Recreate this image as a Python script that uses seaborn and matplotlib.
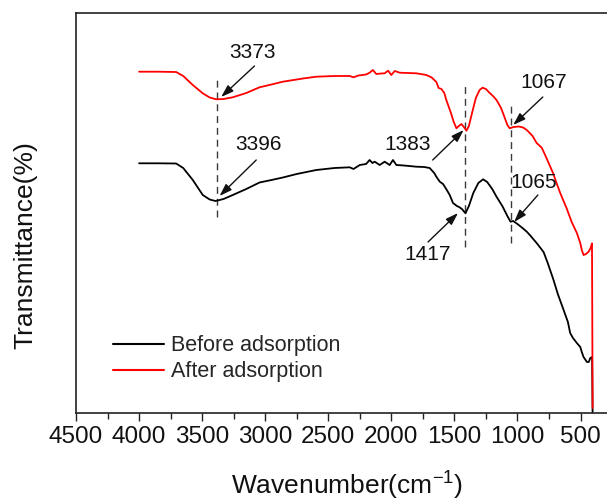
import numpy as np
import pandas as pd
import matplotlib
matplotlib.use("Agg")
import matplotlib.pyplot as plt
from matplotlib.ticker import MultipleLocator
import seaborn as sns

# FTIR spectra (transmittance, arbitrary offset units) before / after adsorption
wn_after = [4000, 3850, 3706, 3650, 3574, 3495, 3440, 3389, 3330, 3257, 3150, 3045,
            2950, 2860, 2700, 2595, 2450, 2330, 2300, 2260, 2200, 2172, 2146, 2119,
            2080, 2053, 2026, 2000, 1973, 1933, 1870, 1801, 1722, 1680, 1643, 1625,
            1603, 1580, 1564, 1530, 1505, 1484, 1465, 1444, 1425, 1404, 1385, 1360,
            1330, 1300, 1277, 1250, 1220, 1190, 1166, 1130, 1100, 1080, 1061, 1030,
            990, 955, 926, 880, 848, 830, 806, 770, 717, 690, 661, 611, 570, 529,
            502, 490, 476, 456, 436, 420, 409, 404]
t_after = [341.3, 341.3, 341.0, 337.0, 328.0, 319.7, 315.5, 313.7, 314.0, 315.7, 320.0, 325.7,
           328.5, 331.3, 334.5, 336.3, 337.0, 337.0, 335.7, 337.5, 338.5, 340.3, 343.0, 339.0,
           339.5, 339.7, 342.3, 338.0, 342.0, 340.3, 340.0, 339.7, 338.0, 335.5, 331.0, 325.0,
           324.0, 320.0, 313.0, 301.0, 291.0, 284.7, 287.0, 289.0, 286.0, 282.3, 287.0, 300.0,
           315.0, 323.0, 325.3, 324.0, 320.0, 316.5, 313.0, 305.0, 295.0, 288.0, 284.7, 286.0,
           286.5, 285.5, 283.0, 277.0, 270.0, 268.0, 265.0, 255.0, 239.7, 230.0, 220.0, 205.0,
           191.0, 180.0, 170.0, 163.0, 158.0, 159.0, 161.3, 165.0, 169.7, 5.0]

wn_before = [4000, 3850, 3706, 3650, 3574, 3495, 3440, 3394, 3330, 3257, 3150, 3045,
             2950, 2860, 2750, 2595, 2450, 2330, 2300, 2250, 2200, 2172, 2150, 2132,
             2092, 2053, 2013, 1987, 1960, 1900, 1801, 1740, 1696, 1660, 1643, 1616,
             1590, 1560, 1537, 1511, 1480, 1463, 1440, 1412, 1385, 1350, 1310, 1272,
             1240, 1200, 1166, 1120, 1080, 1055, 1034, 1000, 960, 926, 902, 848,
             793, 760, 714, 680, 634, 600, 582, 560, 529, 502, 490, 476,
             449, 435, 422, 408, 404]
t_before = [249.7, 249.7, 249.5, 245.0, 233.0, 218.0, 213.5, 212.0, 214.0, 218.0, 224.0, 230.5,
            233.0, 235.5, 239.0, 243.0, 245.0, 245.7, 244.0, 248.0, 249.0, 253.0, 250.0, 251.3,
            248.0, 251.3, 248.0, 253.0, 248.0, 247.5, 246.3, 246.0, 245.0, 240.0, 236.3, 231.3,
            229.0, 223.0, 218.0, 210.0, 207.0, 206.0, 204.0, 199.7, 207.0, 220.0, 230.0, 233.7,
            231.0, 224.0, 216.3, 207.0, 197.0, 191.3, 192.0, 189.0, 185.0, 181.3, 178.0, 170.0,
            161.0, 150.0, 133.0, 119.0, 103.0, 91.0, 80.0, 75.0, 70.0, 66.0, 61.0, 56.0,
            51.0, 51.0, 55.0, 56.0, -5.0]

series_names = ["Before adsorption", "After adsorption"]
series_colors = ["black", "red"]

# peak guides: wavenumber, lower and upper extent
guide_wn = [3385, 1412, 1055]
guide_lo = [196, 166, 170]
guide_hi = [337, 330, 310]

# peak labels: text, text position, arrow tail, arrow head
peak_labels = ["3373", "3396", "1383", "1067", "1065", "1417"]
label_pos = [(3097, 361), (3053, 269), (1874, 268), (791, 331), (872, 231), (1711, 158)]
arrow_tail = [(3085, 347), (3071, 253), (1672, 253), (799, 316), (838, 218), (1709, 171)]
arrow_head = [(3349, 316), (3362, 217), (1426, 283), (1034, 288), (1026, 191), (1471, 200)]

df = pd.concat([
    pd.DataFrame({"Wavenumber": wn_before, "T": t_before, "Sample": series_names[0]}),
    pd.DataFrame({"Wavenumber": wn_after, "T": t_after, "Sample": series_names[1]}),
], ignore_index=True)

sns.set_style("ticks")
plt.rcParams["font.family"] = ["Liberation Sans", "DejaVu Sans"]
plt.rcParams["mathtext.default"] = "regular"

fig = plt.figure(figsize=(6.07, 5.04), dpi=100)
ax = fig.add_axes([76 / 607, 91 / 504, 531 / 607, 400 / 504])

sns.lineplot(data=df, x="Wavenumber", y="T", hue="Sample", hue_order=series_names,
             palette=dict(zip(series_names, series_colors)), sort=False,
             estimator=None, linewidth=1.3, ax=ax)

for w, lo, hi in zip(guide_wn, guide_lo, guide_hi):
    ax.plot([w, w], [lo, hi], color="#3a3a3a", lw=1.0, linestyle=(0, (5, 3.5)), zorder=1)

for txt, pos, tail, head in zip(peak_labels, label_pos, arrow_tail, arrow_head):
    ax.text(pos[0], pos[1], txt, fontsize=15, ha="center", va="center", color="#111111")
    ax.annotate("", xy=head, xytext=tail,
                arrowprops=dict(arrowstyle="-|>,head_length=0.75,head_width=0.25",
                                mutation_scale=10, color="#111111", lw=1.0,
                                shrinkA=0, shrinkB=0))

ax.set_xlim(4500, 290)
ax.set_ylim(0, 400)
ax.xaxis.set_major_locator(MultipleLocator(500))
ax.xaxis.set_minor_locator(MultipleLocator(250))
ax.set_xticks(np.arange(4500, 499, -500))
ax.set_yticks([])
ax.tick_params(axis="x", which="major", direction="out", length=5.5, width=1.0,
               labelsize=17.5, pad=4, colors="#222222")
ax.tick_params(axis="x", which="minor", direction="out", length=4.5, width=1.0, colors="#222222")
ax.tick_params(axis="x", labelcolor="#111111")

for side in ["left", "top", "bottom"]:
    ax.spines[side].set_visible(True)
    ax.spines[side].set_linewidth(1.2)
    ax.spines[side].set_color("#222222")
ax.spines["right"].set_visible(False)

ax.set_xlabel(r"Wavenumber(cm$^{-1}$)", fontsize=19, color="#111111")
ax.xaxis.set_label_coords(0.511, -0.205)
ax.xaxis.label.set_va("baseline")
ax.set_ylabel("Transmittance(%)", fontsize=19, color="#111111")
ax.yaxis.set_label_coords(-0.072, 0.42)

leg = ax.legend(loc="center left", bbox_to_anchor=(0.0697, 0.1355), frameon=False,
                fontsize=15.5, handlelength=2.35, handletextpad=0.35, labelspacing=0.25,
                borderpad=0, borderaxespad=0)
for line in leg.get_lines():
    line.set_linewidth(1.5)

fig.savefig("out.png", dpi=100)
